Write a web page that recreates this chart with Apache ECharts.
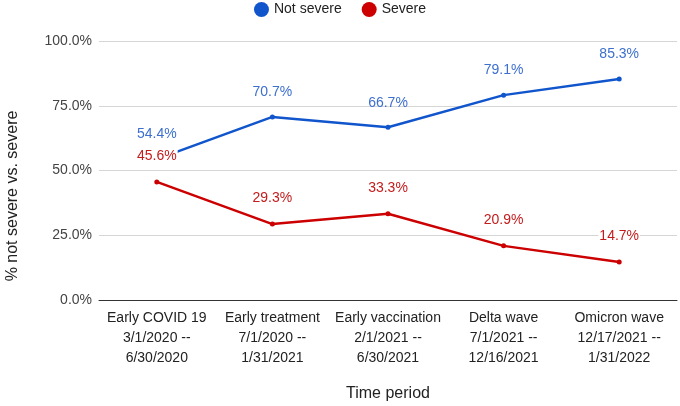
<!DOCTYPE html>
<html><head><meta charset="utf-8">
<script src="https://cdn.jsdelivr.net/npm/echarts@6/dist/echarts.min.js"></script>
<style>html,body{margin:0;padding:0;background:#fff}#c{width:680px;height:406px}</style>
</head><body><div id="c"></div>
<script>
const categories = [
  'Early COVID 19\n3/1/2020 --\n6/30/2020',
  'Early treatment\n7/1/2020 --\n1/31/2021',
  'Early vaccination\n2/1/2021 --\n6/30/2021',
  'Delta wave\n7/1/2021 --\n12/16/2021',
  'Omicron wave\n12/17/2021 --\n1/31/2022'
];
const notSevere = [54.4, 70.7, 66.7, 79.1, 85.3];
const severe = [45.6, 29.3, 33.3, 20.9, 14.7];
const yTicks = [0, 25, 50, 75, 100];
const xTitle = 'Time period';
const yTitle = '% not severe vs. severe';

const chart = echarts.init(document.getElementById('c'));
const font = 'Arial, "Liberation Sans", sans-serif';
chart.setOption({
  animation: false,
  textStyle: { fontFamily: font },
  legend: {
    top: 2, left: 'center', padding: 0,
    icon: 'circle', itemWidth: 15, itemHeight: 15, itemGap: 20,
    textStyle: { fontSize: 14, color: '#222', fontFamily: font },
    data: ['Not severe', 'Severe']
  },
  graphic: [
    { type: 'text', x: 388, y: 386,
      style: { text: xTitle, fontSize: 16, fill: '#222', fontFamily: font, align: 'center', verticalAlign: 'top' } },
    { type: 'text', x: 5, y: 196, rotation: Math.PI / 2,
      style: { text: yTitle, fontSize: 16, fill: '#222', fontFamily: font,
        align: 'center', verticalAlign: 'top' } }
  ],
  grid: { left: 99, right: 3, top: 41, bottom: 106 },
  xAxis: {
    type: 'category', data: categories, boundaryGap: true,
    axisLine: { lineStyle: { color: '#333', width: 1 } },
    axisTick: { show: false },
    axisLabel: { fontSize: 14, color: '#222', lineHeight: 20, margin: 8, interval: 0, fontFamily: font }
  },
  yAxis: {
    type: 'value', min: yTicks[0], max: yTicks[yTicks.length - 1], interval: 25,
    axisLine: { show: false }, axisTick: { show: false },
    splitLine: { lineStyle: { color: '#d6d6d6', width: 1 } },
    axisLabel: { fontSize: 14, color: '#444', margin: 7, formatter: v => v.toFixed(1) + '%', fontFamily: font }
  },
  series: [
    {
      name: 'Not severe', type: 'line', data: notSevere,
      color: '#1155cc',
      lineStyle: { width: 2.5, color: '#1155cc' },
      symbol: 'circle', symbolSize: 5,
      itemStyle: { color: '#1155cc' },
      label: { show: true, position: 'top', distance: 15, fontSize: 14, color: '#3c6fcf',
        formatter: p => p.value.toFixed(1) + '%', fontFamily: font },
      z: 2
    },
    {
      name: 'Severe', type: 'line', data: severe,
      color: '#cc0000',
      lineStyle: { width: 2.5, color: '#cc0000' },
      symbol: 'circle', symbolSize: 5,
      itemStyle: { color: '#cc0000' },
      label: { show: true, position: 'top', distance: 15, fontSize: 14, color: '#c41b1b',
        backgroundColor: '#fff', padding: [1, 1],
        formatter: p => p.value.toFixed(1) + '%', fontFamily: font },
      z: 3
    }
  ]
});
</script></body></html>
